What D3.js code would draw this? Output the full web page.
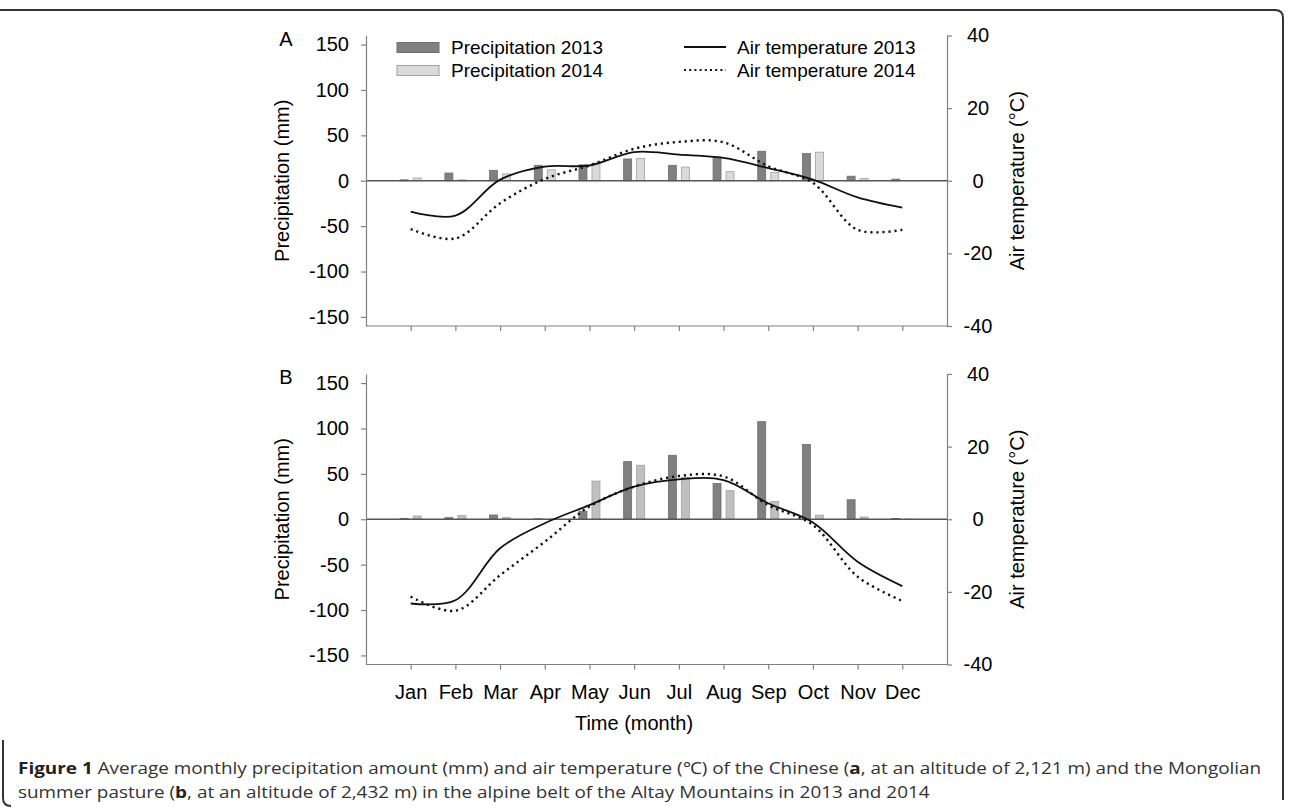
<!DOCTYPE html>
<html>
<head>
<meta charset="utf-8">
<script src="https://cdn.jsdelivr.net/npm/d3@7"></script>
<style>
  body { margin: 0; background: #fff; }
  svg { display: block; font-family: "Liberation Sans", Arial, sans-serif; }
  .axis path, .axis line { stroke: #808080; stroke-width: 1.2; }
  .axis text { font-size: 20px; fill: #000; font-family: "Liberation Sans", Arial, sans-serif; }
</style>
</head>
<body>
<svg id="chart" width="1290" height="810"></svg>
<script>
// month labels
var months = ["Jan","Feb","Mar","Apr","May","Jun","Jul","Aug","Sep","Oct","Nov","Dec"];

// panel A (Chinese pasture)
var precipA2013 = [1, 8.5, 11.5, 17, 17.5, 24, 17, 26, 32.5, 30, 5, 1.8];
var precipA2014 = [3, 1, 7.5, 12, 19.5, 24.5, 15, 10, 9, 31.5, 2.5, 0.3];
var tempA2013 = [-8.5, -9.6, 0.3, 3.9, 4.2, 7.9, 7.2, 6.3, 3.5, 0.3, -4.6, -7.4];
var tempA2014 = [-13.3, -15.9, -6.2, 0.5, 4.2, 8.8, 10.7, 10.6, 4.0, -0.6, -13.5, -13.5];

// panel B (Mongolian pasture)
var precipB2013 = [1, 1.8, 4.7, 0.5, 8.8, 63.5, 70.5, 39.5, 107.5, 82.5, 21.5, 0.8];
var precipB2014 = [3.6, 4, 1.8, 0.2, 42, 59.5, 46, 31.5, 19.5, 4.5, 2.5, 0.3];
var tempB2013 = [-23.2, -22.3, -8.0, -1.1, 3.9, 9.0, 11.0, 10.8, 4.4, -0.9, -11.7, -18.4];
var tempB2014 = [-21.3, -25.2, -15.4, -6.2, 3.5, 9.0, 11.9, 11.8, 3.9, -1.6, -15.8, -22.5];

var precipTicks = [-150, -100, -50, 0, 50, 100, 150];
var tempTicks = [-40, -20, 0, 20, 40];

var svg = d3.select("#chart");

var left = 366, right = 947;
var x = d3.scaleLinear().domain([-1, 12]).range([left, right]);
var sub = d3.scaleBand().domain(["2013","2014"]).range([-10.5, 10.5]).paddingInner(0.385);
var plain = function(d) { return String(d); };  // hyphen minus like the original

var line = d3.line()
  .x(function(d, i) { return x(i); })
  .y(function(d) { return d; })
  .curve(d3.curveCatmullRom.alpha(0.5));

function drawPanel(top, label, p13, p14, t13, t14, lightFill, showMonths) {
  var bottom = top + 290.5;
  var yP = d3.scaleLinear().domain([-160, 160]).range([bottom, top]);
  var yT = d3.scaleLinear().domain([-40, 40]).range([bottom, top]);
  var g = svg.append("g");

  // bars
  var bars = g.append("g");
  bars.selectAll(".b13").data(p13).enter().append("rect")
    .attr("x", function(d, i) { return x(i) + sub("2013"); })
    .attr("y", function(d) { return yP(d); })
    .attr("width", sub.bandwidth())
    .attr("height", function(d) { return yP(0) - yP(d); })
    .attr("fill", "#808080").attr("stroke", "#6e6e6e").attr("stroke-width", 0.8);
  bars.selectAll(".b14").data(p14).enter().append("rect")
    .attr("x", function(d, i) { return x(i) + sub("2014"); })
    .attr("y", function(d) { return yP(d); })
    .attr("width", sub.bandwidth())
    .attr("height", function(d) { return yP(0) - yP(d); })
    .attr("fill", lightFill).attr("stroke", "#a0a0a0").attr("stroke-width", 0.8);

  // zero line
  g.append("line")
    .attr("x1", left).attr("x2", right)
    .attr("y1", yP(0)).attr("y2", yP(0))
    .attr("stroke", "#555").attr("stroke-width", 1.4);

  // axes
  g.append("g").attr("class", "axis")
    .attr("transform", "translate(" + left + ",0)")
    .call(d3.axisLeft(yP).tickValues(precipTicks).tickFormat(plain)
      .tickSize(5).tickSizeOuter(0).tickPadding(12));

  var ra = g.append("g").attr("class", "axis")
    .attr("transform", "translate(" + right + ",0)")
    .call(d3.axisRight(yT).tickValues(tempTicks).tickFormat(plain)
      .tickSize(5).tickSizeOuter(0).tickPadding(26));
  ra.selectAll("text").attr("text-anchor", "middle");

  var ba = g.append("g").attr("class", "axis")
    .attr("transform", "translate(0," + bottom + ")")
    .call(d3.axisBottom(x).tickValues(d3.range(12)).tickSize(5).tickSizeOuter(0).tickPadding(15)
      .tickFormat(function(i) { return showMonths ? months[i] : ""; }));
  ba.select(".domain").attr("d", "M" + left + ",0H" + right);

  // temperature lines
  g.append("path").datum(t13.map(yT))
    .attr("d", line).attr("fill", "none")
    .attr("stroke", "#111").attr("stroke-width", 1.8);
  g.append("path").datum(t14.map(yT))
    .attr("d", line).attr("fill", "none")
    .attr("stroke", "#111").attr("stroke-width", 2.4)
    .attr("stroke-dasharray", "2.2 3.8");

  // titles
  var mid = yP(0);
  g.append("text").attr("x", 286).attr("y", top + 10)
    .attr("text-anchor", "middle").attr("font-size", 20).text(label);
  g.append("text")
    .attr("transform", "translate(289," + mid + ") rotate(-90)")
    .attr("text-anchor", "middle").attr("font-size", 20)
    .text("Precipitation (mm)");
  g.append("text")
    .attr("transform", "translate(1024," + mid + ") rotate(-90)")
    .attr("text-anchor", "middle").attr("font-size", 20)
    .text("Air temperature (\u00B0C)");
}

drawPanel(35.5, "A", precipA2013, precipA2014, tempA2013, tempA2014, "#dadada", false);
drawPanel(374, "B", precipB2013, precipB2014, tempB2013, tempB2014, "#c0c0c0", true);

// legend
var leg = svg.append("g").attr("font-size", 19);
leg.append("rect").attr("x", 397).attr("y", 42.5).attr("width", 42).attr("height", 10)
  .attr("fill", "#808080").attr("stroke", "#6e6e6e");
leg.append("rect").attr("x", 397).attr("y", 65.5).attr("width", 42).attr("height", 10)
  .attr("fill", "#dadada").attr("stroke", "#a0a0a0");
leg.append("text").attr("x", 451).attr("y", 54).text("Precipitation 2013");
leg.append("text").attr("x", 451).attr("y", 77).text("Precipitation 2014");
leg.append("line").attr("x1", 684).attr("x2", 726).attr("y1", 47).attr("y2", 47)
  .attr("stroke", "#111").attr("stroke-width", 1.8);
leg.append("line").attr("x1", 684).attr("x2", 726).attr("y1", 70).attr("y2", 70)
  .attr("stroke", "#111").attr("stroke-width", 2.2).attr("stroke-dasharray", "2 3.2");
leg.append("text").attr("x", 737).attr("y", 54).text("Air temperature 2013");
leg.append("text").attr("x", 737).attr("y", 77).text("Air temperature 2014");

// x title
svg.append("text").attr("x", 634).attr("y", 730).attr("text-anchor", "middle")
  .attr("font-size", 20).text("Time (month)");

// frame
svg.append("path")
  .attr("d", "M0,10H1275Q1283,10 1283,18V800")
  .attr("fill", "none").attr("stroke", "#333").attr("stroke-width", 2);
svg.append("path")
  .attr("d", "M3,740V798Q3,806 11,806")
  .attr("fill", "none").attr("stroke", "#333").attr("stroke-width", 2);

// caption (narrowish face stretched a bit so line 1 fills the width)
var cap = svg.append("g").attr("font-family", "'Open Sans', sans-serif")
  .attr("font-size", 16.6).attr("fill", "#333");
var l1 = cap.append("text").attr("transform", "translate(18,774) scale(1.14,1)");
l1.append("tspan").attr("font-weight", "bold").attr("fill", "#222").text("Figure 1");
l1.append("tspan").text(" Average monthly precipitation amount (mm) and air temperature (\u2103) of the Chinese (");
l1.append("tspan").attr("font-weight", "bold").attr("fill", "#222").text("a");
l1.append("tspan").text(", at an altitude of 2,121 m) and the Mongolian");
var l2 = cap.append("text").attr("transform", "translate(18,798) scale(1.14,1)");
l2.append("tspan").text("summer pasture (");
l2.append("tspan").attr("font-weight", "bold").attr("fill", "#222").text("b");
l2.append("tspan").text(", at an altitude of 2,432 m) in the alpine belt of the Altay Mountains in 2013 and 2014");
</script>
</body>
</html>
